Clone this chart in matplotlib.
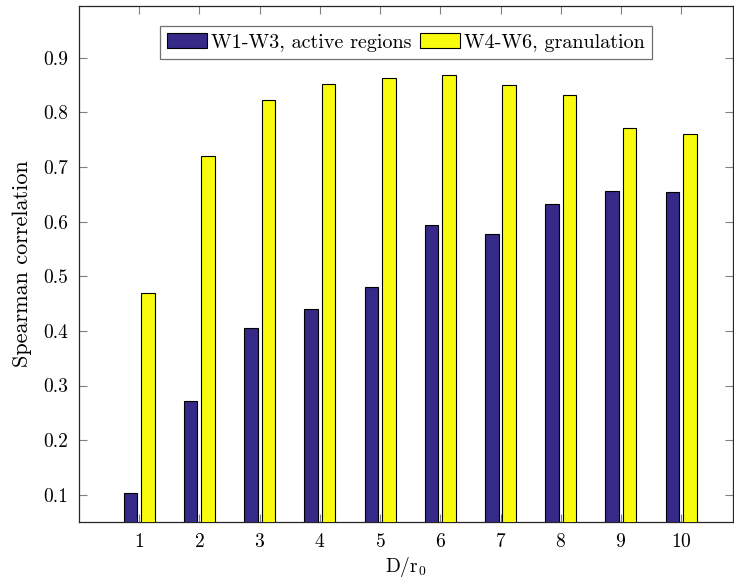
import matplotlib
matplotlib.use("Agg")
import matplotlib.pyplot as plt
import numpy as np

# D/r0 groups and Spearman correlations
d_over_r0 = [1, 2, 3, 4, 5, 6, 7, 8, 9, 10]
active_regions = [0.104, 0.271, 0.406, 0.441, 0.481, 0.594, 0.577, 0.632, 0.656, 0.654]
granulation = [0.470, 0.721, 0.823, 0.852, 0.863, 0.869, 0.851, 0.832, 0.772, 0.761]

plt.rcParams["font.family"] = ["cmr10", "DejaVu Serif"]
plt.rcParams["mathtext.fontset"] = "cm"
plt.rcParams["axes.formatter.use_mathtext"] = True

fig = plt.figure(figsize=(7.34, 5.81), dpi=100)
ax = fig.add_axes([0.1076, 0.1015, 0.8910, 0.8882])

x = np.array(d_over_r0, dtype=float)
w = 0.225
ax.bar(x - 0.145, active_regions, w, color="#352a87", edgecolor="black", linewidth=0.8,
       label="W1-W3, active regions", zorder=3)
ax.bar(x + 0.145, granulation, w, color="#f9fb0e", edgecolor="black", linewidth=0.8,
       label="W4-W6, granulation", zorder=3)

ax.set_xlim(0, 10.86)
ax.set_ylim(0.05, 0.995)
ax.set_xticks(d_over_r0)
ax.set_yticks(np.arange(0.1, 0.91, 0.1))
ax.set_yticklabels([f"{v:.1f}" for v in np.arange(0.1, 0.91, 0.1)])
ax.tick_params(direction="in", length=6, width=0.8, color="0.5", labelsize=14,
               top=True, right=True, pad=8)
for s in ax.spines.values():
    s.set_linewidth(0.9)
    s.set_color("0.15")

ax.set_xlabel("D/r$_0$", fontsize=14, labelpad=3)
ax.set_ylabel("Spearman correlation", fontsize=16, labelpad=8)

leg = ax.legend(loc="upper center", ncol=2, fontsize=14.5, frameon=True, fancybox=False,
                edgecolor="0.3", borderpad=0.35, columnspacing=0.4, handletextpad=0.2,
                handlelength=2.0, bbox_to_anchor=(0.5, 0.98))
leg.get_frame().set_linewidth(0.9)

fig.savefig("out.png", dpi=100)
